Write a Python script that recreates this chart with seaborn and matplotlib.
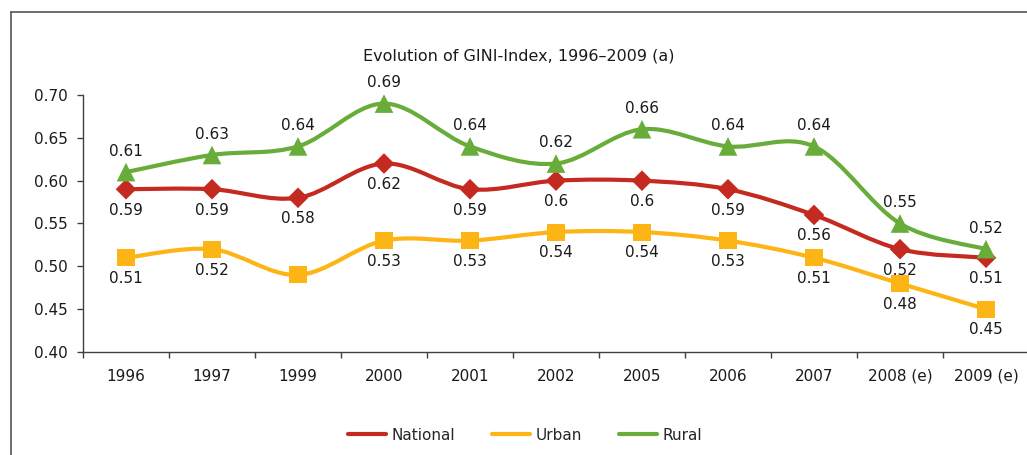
import numpy as np
import pandas as pd
import matplotlib
matplotlib.use("Agg")
import matplotlib.pyplot as plt
from matplotlib.path import Path
from matplotlib.patches import PathPatch
from matplotlib.lines import Line2D
import seaborn as sns

years = ["1996", "1997", "1999", "2000", "2001", "2002", "2005", "2006", "2007", "2008 (e)", "2009 (e)"]
national = [0.59, 0.59, 0.58, 0.62, 0.59, 0.60, 0.60, 0.59, 0.56, 0.52, 0.51]
urban = [0.51, 0.52, 0.49, 0.53, 0.53, 0.54, 0.54, 0.53, 0.51, 0.48, 0.45]
rural = [0.61, 0.63, 0.64, 0.69, 0.64, 0.62, 0.66, 0.64, 0.64, 0.55, 0.52]
# the reference shows no data label for Urban 1999
urban_label_hidden = ["1999"]
yticks = [0.40, 0.45, 0.50, 0.55, 0.60, 0.65, 0.70]
title = "Evolution of GINI-Index, 1996\u20132009 (a)"

sns.set_theme(style="white")
plt.rcParams["font.family"] = ["DejaVu Sans"]
FS = 11

colors = {"National": "#C42A20", "Urban": "#FDB515", "Rural": "#68AC3A"}
markers = {"National": "D", "Urban": "s", "Rural": "^"}
msizes = {"National": 110, "Urban": 150, "Rural": 180}
series = {"National": national, "Urban": urban, "Rural": rural}
offsets = {"National": -15, "Urban": -15, "Rural": 15}
hidden = {"National": [], "Urban": urban_label_hidden, "Rural": []}

fig = plt.figure(figsize=(10.27, 4.55), dpi=100)
ax = fig.add_axes([83 / 1027, 1 - 352 / 455, 946 / 1027, 257 / 455])

xs = np.arange(len(years))

def smooth_path(x, y):
    pts = np.column_stack([x, y]).astype(float)
    n = len(pts)
    verts = [pts[0]]
    codes = [Path.MOVETO]
    for i in range(n - 1):
        p0 = pts[i - 1] if i > 0 else pts[i]
        p1 = pts[i]
        p2 = pts[i + 1]
        p3 = pts[i + 2] if i + 2 < n else pts[i + 1]
        c1 = p1 + (p2 - p0) / 6.0
        c2 = p2 - (p3 - p1) / 6.0
        verts += [c1, c2, p2]
        codes += [Path.CURVE4] * 3
    return Path(verts, codes)

for name, vals in series.items():
    patch = PathPatch(smooth_path(xs, vals), facecolor="none", edgecolor=colors[name],
                      lw=3.0, transform=ax.transData, zorder=2, capstyle="round", joinstyle="round")
    ax.add_patch(patch)

for name, vals in series.items():
    df = pd.DataFrame({"x": xs, "y": vals})
    sns.scatterplot(data=df, x="x", y="y", ax=ax, marker=markers[name], s=msizes[name],
                    color=colors[name], edgecolor="none", linewidth=0, zorder=3, legend=False)
    for xi, v, yr in zip(xs, vals, years):
        if yr in hidden[name]:
            continue
        ax.annotate(f"{v:g}", (xi, v), xytext=(0, offsets[name]), textcoords="offset points",
                    ha="center", va="center", fontsize=FS, color="#1a1a1a", zorder=4)

ax.set_xlim(-0.5, len(years) - 0.5)
ax.set_ylim(0.40, 0.70)
ax.set_yticks(yticks)
ax.set_yticklabels([f"{t:.2f}" for t in yticks], fontsize=FS, color="#1a1a1a")
ax.set_xticks(xs)
ax.set_xticklabels(years, fontsize=FS, color="#1a1a1a")
ax.set_xticks(np.arange(-0.5, len(years), 1.0), minor=True)
ax.tick_params(axis="x", which="major", length=0, pad=12)
ax.tick_params(axis="x", which="minor", length=4, width=1, color="#404040", direction="out", bottom=True)
ax.tick_params(axis="y", which="major", length=4, width=1, color="#404040", direction="out", left=True, pad=7)
ax.set_xlabel("")
ax.set_ylabel("")
for s in ["top", "right"]:
    ax.spines[s].set_visible(False)
for s in ["left", "bottom"]:
    ax.spines[s].set_color("#404040")
    ax.spines[s].set_linewidth(1.0)
ax.set_facecolor("none")

fig.text(519 / 1027, 1 - 56 / 455, title, ha="center", va="center", fontsize=11.5, color="#1a1a1a")

handles = [Line2D([0], [0], color=colors[n], lw=3) for n in series]
fig.legend(handles, list(series.keys()), loc="center", bbox_to_anchor=(525 / 1027, 1 - 435 / 455),
           ncol=3, frameon=False, fontsize=FS, handlelength=2.5, handletextpad=0.35, columnspacing=2.4)

# outer frame (cropped at right and bottom)
fig.add_artist(Line2D([10.5 / 1027, 10.5 / 1027], [0, 1 - 11.5 / 455], transform=fig.transFigure,
                      color="#555555", lw=1.2))
fig.add_artist(Line2D([10.5 / 1027, 1], [1 - 11.5 / 455, 1 - 11.5 / 455], transform=fig.transFigure,
                      color="#555555", lw=1.2))

fig.savefig("out.png", dpi=100, facecolor="white")
